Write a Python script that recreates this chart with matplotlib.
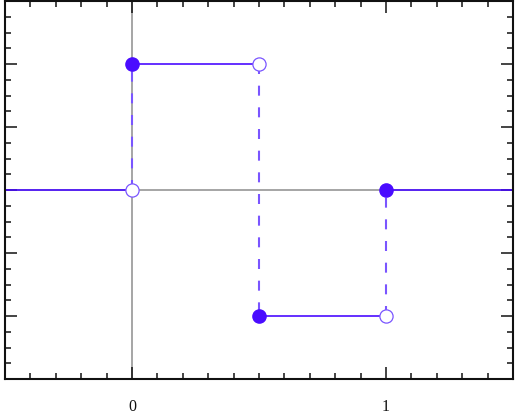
import matplotlib
matplotlib.use("Agg")
import matplotlib.pyplot as plt
from matplotlib.ticker import MultipleLocator

# piecewise constant function: value on [edge_i, edge_i+1)
step_edges = [-0.5, 0.0, 0.5, 1.0, 1.5]
step_values = [0, 1, -1, 0]

x_tick_values = [0, 1]
x_tick_labels = ["0", "1"]

blue = "#4a0cff"
dash_blue = "#7a55ff"
plt.rcParams["lines.scale_dashes"] = False

fig = plt.figure(figsize=(5.31, 4.20), dpi=100)
ax = fig.add_axes([5 / 531, 1 - 379 / 420, 508 / 531, 378 / 420])

ax.axhline(0, color="#8c8c8c", lw=1.1, zorder=1)
ax.axvline(0, color="#8c8c8c", lw=1.1, zorder=1)

# horizontal pieces
for i, v in enumerate(step_values):
    ax.plot([step_edges[i], step_edges[i + 1]], [v, v], color=blue, lw=1.2, zorder=2)

# jumps at interior edges
for i in range(1, len(step_edges) - 1):
    x = step_edges[i]
    left_v = step_values[i - 1]
    right_v = step_values[i]
    ax.plot([x, x], [left_v, right_v], color=dash_blue, lw=1.5,
            linestyle=(0, (7.2, 8.4)), zorder=2)
    ax.plot(x, right_v, "o", color=blue, markersize=9.5, zorder=4)
    ax.plot(x, left_v, "o", markerfacecolor="white", markeredgecolor=dash_blue,
            markeredgewidth=0.9, markersize=9.5, zorder=4)

ax.set_xlim(-0.5, 1.5)
ax.set_ylim(-1.5, 1.5)

ax.set_xticks(x_tick_values)
ax.set_xticklabels(x_tick_labels, family="Liberation Serif", fontsize=11.5)
ax.xaxis.set_minor_locator(MultipleLocator(0.1))
ax.yaxis.set_major_locator(MultipleLocator(0.5))
ax.yaxis.set_minor_locator(MultipleLocator(0.125))
ax.set_yticklabels([])

ax.tick_params(which="both", direction="in", top=True, right=True, width=1.1, color="#111111")
ax.tick_params(which="major", length=8.6)
ax.tick_params(which="minor", length=4.2)
ax.tick_params(axis="x", which="major", pad=14.5, labelcolor="#111111")
ax.tick_params(axis="y", labelleft=False)

for s in ax.spines.values():
    s.set_linewidth(1.5)
    s.set_color("#111111")

fig.savefig("out.png", dpi=100, transparent=True)
